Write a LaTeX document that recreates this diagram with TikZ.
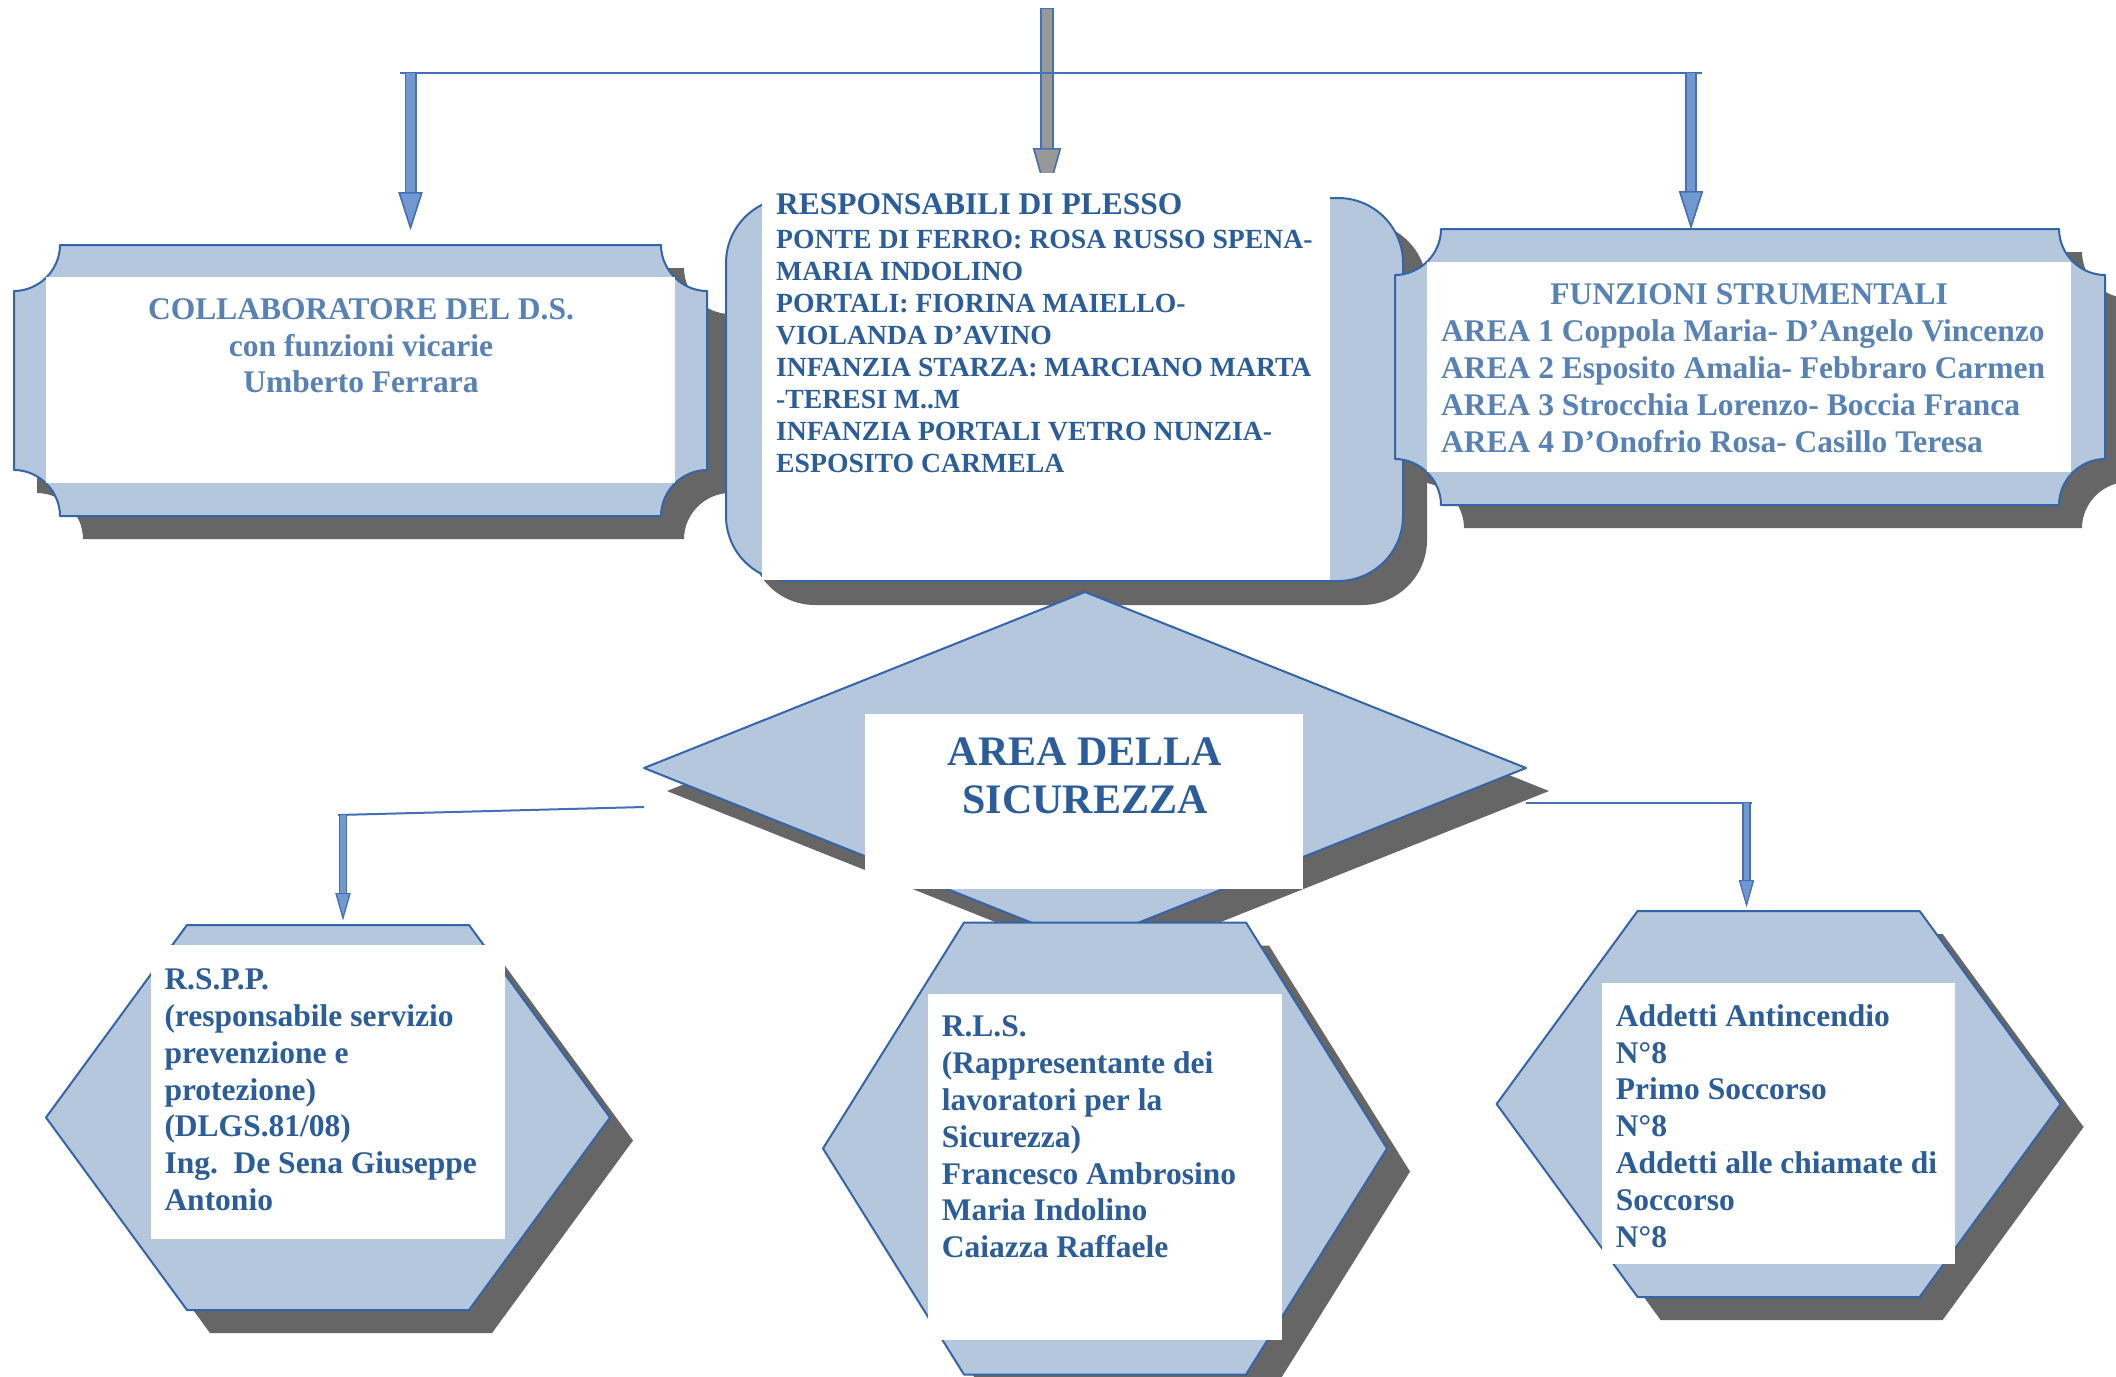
\documentclass[tikz,border=0pt]{standalone}
\usepackage{fontspec}
\setmainfont{Liberation Serif}
\usetikzlibrary{arrows.meta}
\frenchspacing

\definecolor{shapefill}{HTML}{B4C7DD}
\definecolor{shapeline}{HTML}{3465A8}
\definecolor{dropgrey}{HTML}{666666}
\definecolor{darktext}{HTML}{2B5D9B}
\definecolor{lighttext}{HTML}{5882B6}
\definecolor{arrowfill}{HTML}{7299CF}
\definecolor{arrowline}{HTML}{4370B8}
\definecolor{arrowgrey}{HTML}{989898}

% rectangle with concave corners
\newcommand{\plaquepath}[4]{({#1+46},#2) -- ({#3-46},#2)
  .. controls ({#3-46},{#2+25}) and ({#3-25},{#2+46}) .. (#3,{#2+46})
  -- (#3,{#4-46})
  .. controls ({#3-25},{#4-46}) and ({#3-46},{#4-25}) .. ({#3-46},#4)
  -- ({#1+46},#4)
  .. controls ({#1+46},{#4-25}) and ({#1+25},{#4-46}) .. (#1,{#4-46})
  -- (#1,{#2+46})
  .. controls ({#1+25},{#2+46}) and ({#1+46},{#2+25}) .. ({#1+46},#2) -- cycle}
\newcommand{\hexpath}[3]{({#1-141},{#2-#3}) -- ({#1+141},{#2-#3}) -- ({#1+282},#2)
  -- ({#1+141},{#2+#3}) -- ({#1-141},{#2+#3}) -- ({#1-282},#2) -- cycle}

\begin{document}
\begin{tikzpicture}[
                        x = 1pt,
                        y = -1pt,
                        line join = round
                        ]

                        \tikzstyle{plate}=[fill = shapefill, draw = shapeline, line width = 2pt]
                        \tikzstyle{drop}=[fill = dropgrey]
                        \tikzstyle{paper}=[fill = white]
                        \tikzstyle{body}=[
                                inner sep = 0pt,
                                text = darktext,
                                font = \bfseries\fontsize{31.5}{36.8}\selectfont
                        ]
                        \tikzstyle{link}=[draw = arrowline, line width = 2pt]
                        \tikzstyle{bigarrow}=[
                                draw = arrowfill, line width = 8.5pt,
                                -{Triangle[width=24pt,length=38pt,fill=arrowfill,color=arrowline,line width=1.5pt]},
                                preaction = {draw = arrowline, line width = 12pt, shorten <= -1.5pt,
                                -{Triangle[width=24pt,length=38pt,fill=arrowfill,color=arrowline,line width=1.5pt]}}
                        ]
                        \tikzstyle{greyarrow}=[
                                draw = arrowgrey, line width = 10.5pt,
                                -{Triangle[width=28pt,length=50pt,fill=arrowgrey,color=arrowline,line width=1.5pt]},
                                preaction = {draw = arrowline, line width = 14pt, shorten <= -1.5pt,
                                -{Triangle[width=28pt,length=50pt,fill=arrowgrey,color=arrowline,line width=1.5pt]}}
                        ]
                        \tikzstyle{smallarrow}=[
                                draw = arrowfill, line width = 5.5pt,
                                -{Triangle[width=15pt,length=27pt,fill=arrowfill,color=arrowline,line width=1.2pt]},
                                preaction = {draw = arrowline, line width = 8.5pt, shorten <= -1.2pt,
                                -{Triangle[width=15pt,length=27pt,fill=arrowfill,color=arrowline,line width=1.2pt]}}
                        ]

                        \useasboundingbox (0,0) rectangle (2116,1376);
                        \fill[white] (0,0) rectangle (2116,1376);

                        \fill[drop, shift={(23,23)}] \plaquepath{14}{245}{707}{516};
                        \path[plate] \plaquepath{14}{245}{707}{516};
                        \fill[paper] (46,277) rectangle (675,483);

                        \fill[drop, shift={(24,24)}, rounded corners = 65pt] (726,198) rectangle (1403,581);
                        \path[plate, rounded corners = 65pt] (726,198) rectangle (1403,581);
                        \fill[paper] (762,190) rectangle (1330,580);

                        \fill[drop, shift={(23,23)}] \plaquepath{1395}{229}{2105}{505};
                        \path[plate] \plaquepath{1395}{229}{2105}{505};
                        \fill[paper] (1427,262) rectangle (2071,472);

                        \fill[drop, shift={(23,23)}] (1085,592) -- (1526,768) -- (1085,944) -- (644,768) -- cycle;
                        \path[plate] (1085,592) -- (1526,768) -- (1085,944) -- (644,768) -- cycle;
                        \fill[paper] (865,714) rectangle (1303,889);

                        \fill[drop, shift={(23,23)}] \hexpath{328}{1117.5}{192.5};
                        \path[plate] \hexpath{328}{1117.5}{192.5};
                        \fill[paper] (151,945) rectangle (505,1239);

                        \fill[drop, shift={(23,23)}] \hexpath{1105}{1148.5}{226};
                        \path[plate] \hexpath{1105}{1148.5}{226};
                        \fill[paper] (928,994) rectangle (1282,1340);

                        \fill[drop, shift={(23,23)}] \hexpath{1778.6}{1104}{193};
                        \path[plate] \hexpath{1778.6}{1104}{193};
                        \fill[paper] (1602,983) rectangle (1955,1264);

                        \node[body, text = lighttext, align = center, anchor = north] (collab) at (361,298.2)
                                {COLLABORATORE DEL D.S.\\ con funzioni vicarie\\ Umberto Ferrara};
                        \node[body, font = \bfseries\fontsize{27.7}{32.1}\selectfont, align = left, anchor = north west] (resp) at (776,193.4)
                                {{\fontsize{31.5}{33.6}\selectfont RESPONSABILI DI PLESSO}\\[1.5pt]
                                PONTE DI FERRO: ROSA RUSSO SPENA-\\ MARIA INDOLINO\\
                                PORTALI: FIORINA MAIELLO-\\ VIOLANDA D’AVINO\\
                                INFANZIA STARZA: MARCIANO MARTA\\ -TERESI M..M\\
                                INFANZIA PORTALI VETRO NUNZIA-\\ ESPOSITO CARMELA};
                        \node[body, text = lighttext, align = left, anchor = north west] (funz) at (1441,283.3)
                                {\makebox[616pt]{FUNZIONI STRUMENTALI}\\[0.6pt]
                                AREA 1 Coppola Maria- D’Angelo Vincenzo\\
                                AREA 2 Esposito Amalia- Febbraro Carmen\\
                                AREA 3 Strocchia Lorenzo- Boccia Franca\\
                                AREA 4 D’Onofrio Rosa- Casillo Teresa};
                        \node[body, font = \bfseries\fontsize{42}{48}\selectfont, align = center, anchor = north] (area) at (1085,737.6)
                                {AREA DELLA\\ SICUREZZA};
                        \node[body, align = left, anchor = north west] (rspp) at (164.3,968.6)
                                {R.S.P.P.\\ (responsabile servizio\\ prevenzione e\\ protezione)\\
                                (DLGS.81/08)\\ Ing.~~De Sena Giuseppe\\ Antonio};
                        \node[body, align = left, anchor = north west] (rls) at (941.6,1015.8)
                                {R.L.S.\\ (Rappresentante dei\\ lavoratori per la\\ Sicurezza)\\
                                Francesco Ambrosino\\ Maria Indolino\\ Caiazza Raffaele};
                        \node[body, align = left, anchor = north west] (addetti) at (1615.7,1004.3)
                                {Addetti Antincendio\\ N°8\\ Primo Soccorso\\ N°8\\
                                Addetti alle chiamate di\\ Soccorso\\ N°8};

                        \coordinate (in) at (1047,9);
                        \coordinate (busL) at (400,73);
                        \coordinate (busR) at (1702,73);
                        \coordinate (collabtop) at (410.5,230);
                        \coordinate (resptop) at (1047,198);
                        \coordinate (funztop) at (1691,229);
                        \coordinate (areaL) at (644,807);
                        \coordinate (areaR) at (1525.6,803);
                        \coordinate (rsppbend) at (338,815);
                        \coordinate (addettibend) at (1752,803);
                        \coordinate (rspptop) at (343,920);
                        \coordinate (addettitop) at (1746.5,907);

                        \begin{scope}
                                \clip (1000,0) rectangle (1100,172);
                                \draw[greyarrow] (in) -- (resptop);
                        \end{scope}
                        \draw[link] (busL) -- (busR);
                        \draw[bigarrow] (collabtop |- busL) -- (collabtop);
                        \draw[bigarrow] (funztop |- busR) -- (funztop);

                        \draw[link] (areaL) -- (rsppbend);
                        \draw[link] (areaR) -- (addettibend);
                        \draw[smallarrow] (rspptop |- rsppbend) -- (rspptop);
                        \draw[smallarrow] (addettitop |- addettibend) -- (addettitop);
                \end{tikzpicture}
\end{document}
